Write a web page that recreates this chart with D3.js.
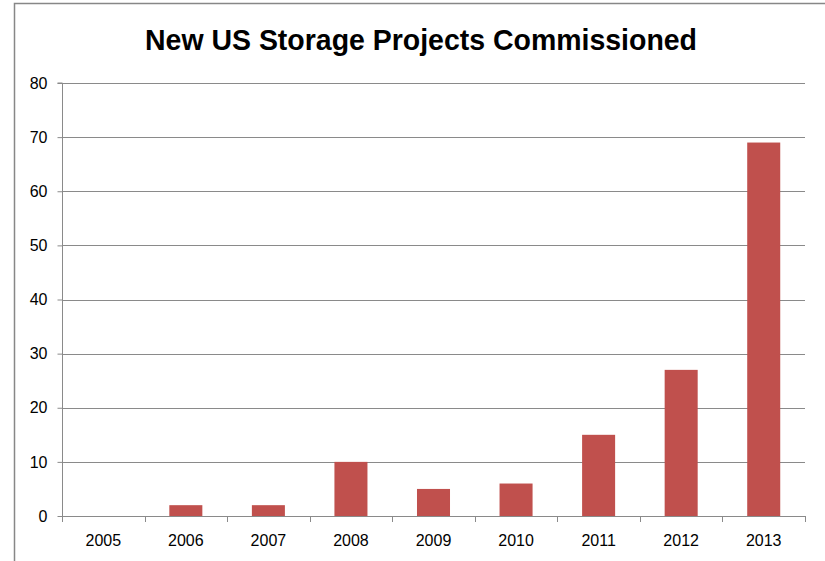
<!DOCTYPE html>
<html><head><meta charset="utf-8">
<script src="https://cdn.jsdelivr.net/npm/d3@7"></script>
<style>body{margin:0;background:#fff;}svg{display:block;}</style>
</head><body>
<svg id="c" width="825" height="561"></svg>
<script>
const categories = ["2005","2006","2007","2008","2009","2010","2011","2012","2013"];
const values = [0, 2, 2, 10, 5, 6, 15, 27, 69];
const yTicks = [0,10,20,30,40,50,60,70,80];
const title = "New US Storage Projects Commissioned";

const svg = d3.select("#c");
const W = 825, H = 561;
const m = {left:62, right:20, top:83, bottom:45};
const xb = d3.scaleBand().domain(categories).range([m.left, 805]);
const y = d3.scaleLinear().domain([0,80]).range([516, 83]);

// outer border (left + top)
svg.append("path").attr("d", `M14.5,${H} L14.5,3.5 L${W},3.5`).attr("fill","none").attr("stroke","#878787").attr("stroke-width",1.5);

svg.append("text").attr("x",421).attr("y",50).attr("text-anchor","middle")
  .attr("font-family","'Liberation Sans Narrow','Liberation Sans',Arial,sans-serif").attr("font-weight","bold")
  .attr("font-size",30).attr("fill","#000").attr("textLength",552).attr("lengthAdjust","spacingAndGlyphs").text(title);

// gridlines
svg.append("g").selectAll("line").data(yTicks.filter(d=>d>0)).join("line")
  .attr("x1",m.left).attr("x2",805).attr("y1",d=>Math.round(y(d))+0.5).attr("y2",d=>Math.round(y(d))+0.5)
  .attr("stroke","#8a8a8a").attr("stroke-width",1);

// bars
svg.append("g").selectAll("rect").data(values).join("rect")
  .attr("x",(d,i)=>xb(categories[i]) + xb.bandwidth()*0.3)
  .attr("width",xb.bandwidth()*0.4)
  .attr("y",d=>y(d)).attr("height",d=>y(0)-y(d))
  .attr("fill","#C0504D");

// y axis
const yAxis = svg.append("g").attr("transform",`translate(${m.left+0.5},0)`)
  .call(d3.axisLeft(y).tickValues(yTicks).tickSize(5).tickPadding(10).tickFormat(d3.format("d")));
yAxis.select(".domain").attr("stroke","#8a8a8a").attr("d",`M-5,${y(80)}H0V${y(0)}`);
yAxis.selectAll(".tick line").attr("stroke","#8a8a8a");
yAxis.selectAll("text").attr("font-family","'Liberation Sans',Arial,sans-serif").attr("font-size",16).attr("fill","#000");

// x axis
const xAxis = svg.append("g").attr("transform",`translate(0,${Math.round(y(0))+0.5})`)
  .call(d3.axisBottom(xb).tickSize(0).tickPadding(18));
xAxis.select(".domain").attr("stroke","#8a8a8a").attr("d",`M${m.left},0H805`);
xAxis.selectAll("text").attr("font-family","'Liberation Sans',Arial,sans-serif").attr("font-size",16).attr("fill","#000");
// category boundary ticks
svg.append("g").selectAll("line").data(d3.range(categories.length+1)).join("line")
  .attr("x1",i=>Math.round(m.left + i*xb.step())+0.5).attr("x2",i=>Math.round(m.left + i*xb.step())+0.5)
  .attr("y1",Math.round(y(0))).attr("y2",Math.round(y(0))+6).attr("stroke","#8a8a8a");
</script>
</body></html>
